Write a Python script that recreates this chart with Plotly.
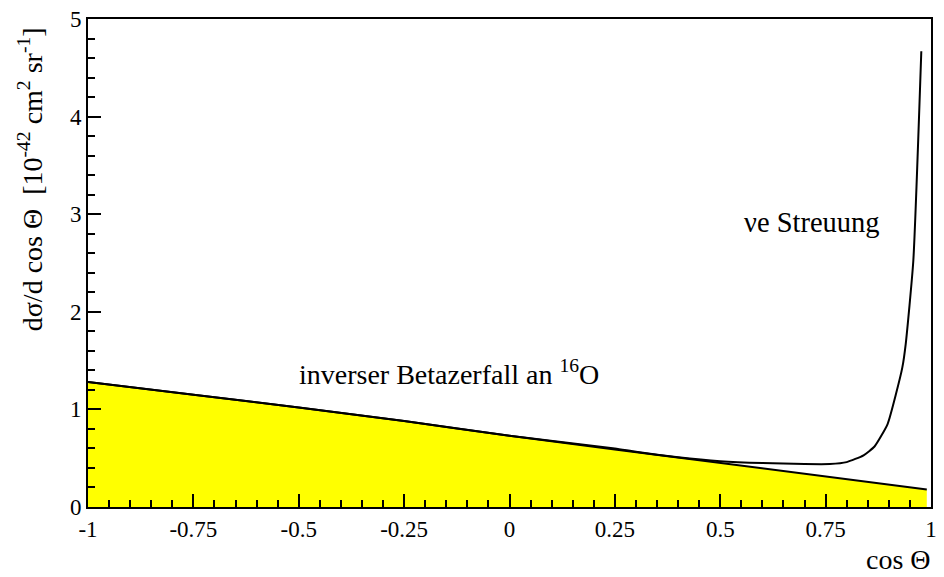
import plotly.graph_objects as go

# Inverse beta decay on 16O (filled yellow band)
beta_cos = [-1.0, -0.75, -0.5, -0.25, 0.0, 0.25, 0.5, 0.75, 0.99]
beta_xs = [1.28, 1.15, 1.02, 0.88, 0.73, 0.59, 0.45, 0.31, 0.18]

# Sum including neutrino-electron scattering (forward peak)
total_cos = [-1.0, -0.75, -0.5, -0.25, 0.0, 0.25, 0.3, 0.4, 0.5, 0.6, 0.7, 0.76,
             0.8, 0.84, 0.866, 0.897, 0.917, 0.932, 0.94, 0.958, 0.977]
total_xs = [1.28, 1.15, 1.02, 0.88, 0.73, 0.60, 0.565, 0.51, 0.47, 0.45, 0.44, 0.44,
            0.46, 0.53, 0.62, 0.85, 1.16, 1.43, 1.67, 2.52, 4.67]

x_ticks = [-1, -0.75, -0.5, -0.25, 0, 0.25, 0.5, 0.75, 1]
x_tick_text = ["-1", "-0.75", "-0.5", "-0.25", "0", "0.25", "0.5", "0.75", "1"]
y_ticks = [0, 1, 2, 3, 4, 5]

FONT = "Liberation Serif"

fig = go.Figure()
fig.add_trace(go.Scatter(
    x=beta_cos, y=beta_xs, mode="lines", fill="tozeroy",
    fillcolor="#ffff00", line=dict(color="black", width=2),
    hoverinfo="skip", showlegend=False,
))
fig.add_trace(go.Scatter(
    x=total_cos, y=total_xs, mode="lines",
    line=dict(color="black", width=2, shape="spline", smoothing=0.5),
    hoverinfo="skip", showlegend=False,
))

axis_common = dict(
    showgrid=False, zeroline=False, showline=True, linecolor="black",
    linewidth=2, mirror=True, ticks="inside", tickcolor="black",
    tickwidth=2, ticklen=13,
    tickfont=dict(family=FONT, size=23, color="black"),
)

fig.update_xaxes(
    range=[-1, 1], tickvals=x_ticks, ticktext=x_tick_text,
    minor=dict(ticks="inside", dtick=0.05, ticklen=7, tickwidth=2, tickcolor="black"),
    **axis_common,
)
fig.update_yaxes(
    range=[0, 5], tickvals=y_ticks,
    minor=dict(ticks="inside", dtick=0.2, ticklen=7, tickwidth=2, tickcolor="black"),
    **axis_common,
)

fig.add_annotation(
    text="dσ/d cos Θ  [10<sup>-42</sup> cm<sup>2</sup> sr<sup>-1</sup>]",
    xref="paper", yref="paper", x=-0.068, y=0.671, textangle=-90,
    showarrow=False, font=dict(family=FONT, size=28, color="black"),
    xanchor="center", yanchor="middle",
)
fig.add_annotation(
    text="cos Θ", xref="paper", yref="paper", x=0.962, y=-0.108,
    showarrow=False, font=dict(family=FONT, size=28, color="black"),
    xanchor="center", yanchor="middle",
)
fig.add_annotation(
    text="inverser Betazerfall an <sup>16</sup>O", x=-0.505, y=1.38,
    showarrow=False, font=dict(family=FONT, size=28, color="black"),
    xanchor="left", yanchor="middle",
)
fig.add_annotation(
    text="νe Streuung", x=0.552, y=2.91,
    showarrow=False, font=dict(family=FONT, size=28.5, color="black"),
    xanchor="left", yanchor="middle",
)

fig.update_layout(
    width=944, height=577,
    margin=dict(l=88, r=7, t=16, b=70),
    paper_bgcolor="white", plot_bgcolor="white",
    font=dict(family=FONT, color="black"),
)

fig.write_html("out.html")
